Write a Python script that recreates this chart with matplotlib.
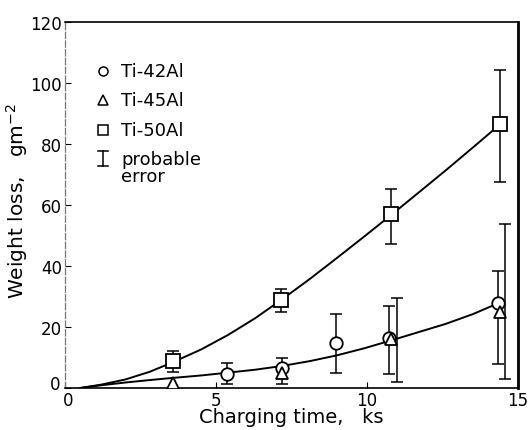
import matplotlib
matplotlib.use("Agg")
import matplotlib.pyplot as plt
import matplotlib.transforms as mtransforms
import numpy as np

plt.rcParams['font.family'] = ['DejaVu Sans']

# Ti-42Al (circles)
t42 = [5.36, 7.17, 8.97, 10.72, 14.35]
w42 = [4.6, 6.6, 14.8, 16.4, 28.0]
w42_lo = [1.3, 1.3, 4.9, 4.6, 7.9]
w42_hi = [8.1, 9.9, 24.1, 26.9, 38.4]

# Ti-45Al (triangles); only the two last points carry error bars
t45 = [3.56, 7.17, 10.78, 14.42]
w45 = [1.5, 4.9, 16.1, 24.9]
t45_err = [10.98, 14.58]
w45_err_mid = [16.1, 24.9]
w45_lo = [1.9, 3.0]
w45_hi = [29.6, 53.7]

# Ti-50Al (squares)
t50 = [3.56, 7.15, 10.81, 14.39]
w50 = [8.7, 29.0, 56.9, 86.5]
w50_lo = [5.4, 24.9, 47.3, 67.5]
w50_hi = [12.1, 32.5, 65.1, 104.3]

# hand-drawn trend curves
upper_t = [0.5, 1.2, 2.0, 2.8, 3.56, 4.5, 5.4, 6.3, 7.15, 8.1, 9.0, 9.9, 10.81, 11.7, 12.6, 13.5, 14.39]
upper_w = [0.0, 1.1, 2.8, 5.3, 8.4, 12.6, 17.4, 22.9, 28.8, 35.7, 42.6, 49.6, 56.8, 64.0, 71.3, 78.8, 86.3]
lower_t = [0.5, 1.2, 2.0, 2.8, 3.56, 4.5, 5.36, 6.3, 7.17, 8.1, 9.0, 9.9, 10.8, 11.7, 12.6, 13.5, 14.35]
lower_w = [0.0, 0.9, 1.8, 2.6, 3.3, 4.1, 5.0, 6.0, 7.2, 8.8, 10.7, 13.0, 15.6, 18.3, 21.0, 24.2, 27.8]

xticks = [0, 5, 10, 15]
yticks = [0, 20, 40, 60, 80, 100, 120]

fig = plt.figure(figsize=(5.29, 4.31), dpi=100)
ax = fig.add_axes([65 / 529, 42 / 431, 453 / 529, 366 / 431])

ax.plot(upper_t, upper_w, color='black', lw=1.4, zorder=2)
ax.plot(lower_t, lower_w, color='black', lw=1.4, zorder=2)

eb = dict(fmt='none', ecolor='black', elinewidth=1.1, capsize=4.5, capthick=1.1, zorder=3)
ax.errorbar(t50, w50, yerr=[np.subtract(w50, w50_lo), np.subtract(w50_hi, w50)], **eb)
ax.errorbar(t42, w42, yerr=[np.subtract(w42, w42_lo), np.subtract(w42_hi, w42)], **eb)
ax.errorbar(t45_err, w45_err_mid, yerr=[np.subtract(w45_err_mid, w45_lo), np.subtract(w45_hi, w45_err_mid)], **eb)

mk = dict(ls='none', mfc='white', mec='black', mew=1.3, zorder=4)
ax.plot(t42, w42, marker='o', ms=9, **mk)
ax.plot(t45, w45, marker='^', ms=9, **mk)
ax.plot(t50, w50, marker='s', ms=9.5, **mk)

ax.set_xlim(0, 15)
ax.set_ylim(0, 120)
ax.set_xticks(xticks)
ax.set_yticks(yticks)
ax.tick_params(direction='in', length=4, width=0.8, labelsize=12, pad=2,
               top=False, right=False)

# nudge the y "0" up and the x "0" right so the two zeros don't collide
lab0 = ax.yaxis.get_major_ticks()[0].label1
lab0.set_transform(lab0.get_transform() + mtransforms.ScaledTranslation(-1 / 72, 4 / 72, fig.dpi_scale_trans))
labx0 = ax.xaxis.get_major_ticks()[0].label1
labx0.set_transform(labx0.get_transform() + mtransforms.ScaledTranslation(2 / 72, 0, fig.dpi_scale_trans))

for side in ['top', 'bottom']:
    ax.spines[side].set_linewidth(1.2)
ax.spines['right'].set_linewidth(2.0)
ax.spines['left'].set_linewidth(0.9)
ax.spines['left'].set_color('#777777')
ax.spines['left'].set_linestyle((0, (5, 2)))

ax.set_xlabel('Charging time,   ks', fontsize=14, labelpad=-1)
ax.set_ylabel('Weight loss,   gm$^{-2}$', fontsize=14.5)
ax.yaxis.set_label_coords(-0.077, 0.514)

# key in the upper left corner
key_x, text_x = 0.084, 0.124
rows = [(0.867, 'o', 'Ti-42Al'), (0.788, '^', 'Ti-45Al'), (0.705, 's', 'Ti-50Al')]
for y, m, label in rows:
    ax.plot([key_x], [y], marker=m, ms=6.5, mfc='white', mec='black', mew=1.1,
            transform=ax.transAxes, clip_on=False)
    ax.text(text_x, y, label, transform=ax.transAxes, fontsize=13, va='center', ha='left')
ax.plot([key_x, key_x], [0.606, 0.648], color='black', lw=1.1, transform=ax.transAxes)
ax.plot([key_x - 0.012, key_x + 0.012], [0.648, 0.648], color='black', lw=1.1, transform=ax.transAxes)
ax.plot([key_x - 0.012, key_x + 0.012], [0.606, 0.606], color='black', lw=1.1, transform=ax.transAxes)
ax.text(text_x, 0.626, 'probable', transform=ax.transAxes, fontsize=13, va='center', ha='left')
ax.text(text_x, 0.578, 'error', transform=ax.transAxes, fontsize=13, va='center', ha='left')

fig.savefig('out.png', dpi=100)
